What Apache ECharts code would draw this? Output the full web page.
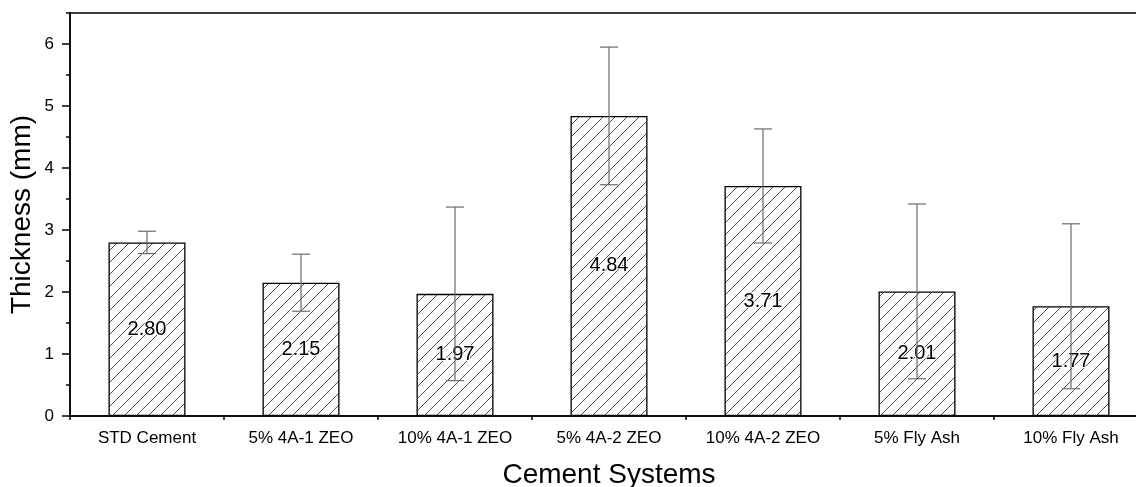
<!DOCTYPE html>
<html>
<head>
<meta charset="utf-8">
<script src="https://cdn.jsdelivr.net/npm/echarts@6/dist/echarts.min.js"></script>
<style>
  html, body { margin: 0; padding: 0; background: #fff; }
  #chart { width: 1136px; height: 487px; }
</style>
</head>
<body>
<div id="chart"></div>
<script>
// Mean thickness per cement system with its standard deviation
const categories = ['STD Cement', '5% 4A-1 ZEO', '10% 4A-1 ZEO', '5% 4A-2 ZEO', '10% 4A-2 ZEO', '5% Fly Ash', '10% Fly Ash'];
const thickness = [2.80, 2.15, 1.97, 4.84, 3.71, 2.01, 1.77];
const deviation = [0.18, 0.46, 1.40, 1.11, 0.92, 1.41, 1.33];
const yMajorTicks = [0, 1, 2, 3, 4, 5, 6];

const FONT = '"Liberation Sans", Arial, sans-serif';

// Diagonal "/" hatch tile used as the bar fill
function makeHatch() {
  const s = 12;
  const c = document.createElement('canvas');
  c.width = s; c.height = s;
  const g = c.getContext('2d');
  g.fillStyle = '#fff';
  g.fillRect(0, 0, s, s);
  g.strokeStyle = '#3a3a3a';
  g.lineWidth = 0.9;
  g.beginPath();
  g.moveTo(0, s); g.lineTo(s, 0);
  g.moveTo(-2, 2); g.lineTo(2, -2);
  g.moveTo(s - 2, s + 2); g.lineTo(s + 2, s - 2);
  g.stroke();
  return c;
}

const errorData = thickness.map((v, i) => [i, v - deviation[i], v + deviation[i]]);

const chart = echarts.init(document.getElementById('chart'), null, { renderer: 'canvas' });

chart.setOption({
  animation: false,
  backgroundColor: '#fff',
  grid: {
    left: 70, top: 13, width: 1078, height: 403,
    outerBoundsMode: 'none',
    containLabel: false,
    show: true, borderColor: '#000', borderWidth: 1.5, backgroundColor: 'transparent'
  },
  xAxis: [
    {
      type: 'category',
      data: categories,
      position: 'bottom',
      axisLine: { lineStyle: { color: '#000', width: 1.5 } },
      axisTick: { alignWithLabel: true, length: 8, lineStyle: { color: '#000', width: 1.5 } },
      axisLabel: { fontSize: 17, color: '#000', fontFamily: FONT, margin: 14 },
      name: 'Cement Systems',
      nameLocation: 'middle',
      nameGap: 45,
      nameTextStyle: { fontSize: 28, color: '#000', fontFamily: FONT }
    },
    {
      type: 'category',
      data: categories,
      position: 'bottom',
      axisLine: { show: false },
      axisTick: { show: true, alignWithLabel: false, length: 4, lineStyle: { color: '#000', width: 1.5 } },
      axisLabel: { show: false }
    }
  ],
  yAxis: [
    {
      type: 'value',
      min: 0, max: 6.5, interval: 0.5,
      position: 'left',
      axisLine: { show: true, lineStyle: { color: '#000', width: 1.5 } },
      axisTick: { show: true, length: 4, lineStyle: { color: '#000', width: 1.5 } },
      axisLabel: {
        fontSize: 17, color: '#000', fontFamily: FONT, margin: 16,
        formatter: v => (yMajorTicks.indexOf(v) >= 0 ? String(v) : '')
      },
      splitLine: { show: false },
      name: 'Thickness (mm)',
      nameLocation: 'middle',
      nameGap: 34,
      nameMoveOverlap: false,
      nameTextStyle: { fontSize: 28, color: '#000', fontFamily: FONT }
    },
    {
      type: 'value',
      min: 0, max: 6.5, interval: 0.5,
      position: 'left',
      axisLine: { show: false },
      axisTick: { show: true, length: 8, customValues: yMajorTicks, lineStyle: { color: '#000', width: 1.5 } },
      axisLabel: { show: false },
      splitLine: { show: false }
    }
  ],
  series: [
    {
      type: 'bar',
      data: thickness,
      barWidth: '50%',
      itemStyle: {
        color: { image: makeHatch(), repeat: 'repeat' },
        borderColor: '#000',
        borderWidth: 1.3
      },
      label: {
        show: true,
        position: 'inside',
        fontSize: 20,
        color: '#000',
        fontFamily: FONT,
        textBorderColor: '#fff',
        textBorderWidth: 2,
        formatter: p => p.value.toFixed(2)
      },
      z: 2
    },
    {
      type: 'custom',
      data: errorData,
      encode: { x: 0, y: [1, 2] },
      z: 3,
      renderItem: (params, api) => {
        const i = api.value(0);
        const lo = api.coord([i, api.value(1)]);
        const hi = api.coord([i, api.value(2)]);
        const half = 9;
        const style = { stroke: '#6b6b6b', lineWidth: 1.2 };
        return {
          type: 'group',
          children: [
            { type: 'line', shape: { x1: hi[0], y1: hi[1], x2: lo[0], y2: lo[1] }, style },
            { type: 'line', shape: { x1: hi[0] - half, y1: hi[1], x2: hi[0] + half, y2: hi[1] }, style },
            { type: 'line', shape: { x1: lo[0] - half, y1: lo[1], x2: lo[0] + half, y2: lo[1] }, style }
          ]
        };
      }
    }
  ]
});
</script>
</body>
</html>
